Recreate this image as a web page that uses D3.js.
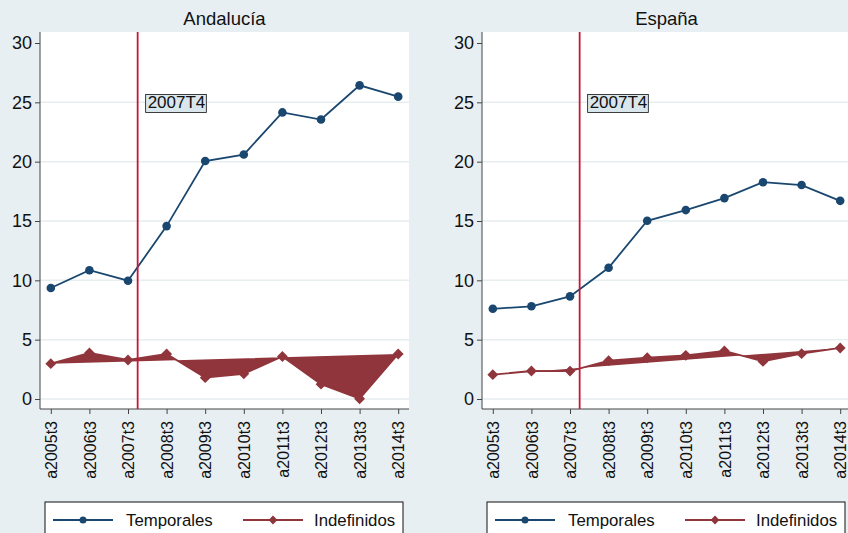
<!DOCTYPE html>
<html>
<head>
<meta charset="utf-8">
<script src="https://cdn.jsdelivr.net/npm/d3@7"></script>
<style>
  body { margin: 0; background: #e8eff2; }
  svg { display: block; font-family: "Liberation Sans", Arial, sans-serif; }
</style>
</head>
<body>
<div id="chart"></div>
<script>
// periods on the x axis
var periods = ["a2005t3","a2006t3","a2007t3","a2008t3","a2009t3","a2010t3","a2011t3","a2012t3","a2013t3","a2014t3"];
var yTicks = [0, 5, 10, 15, 20, 25, 30];

var andaluciaTemporales  = [9.35, 10.85, 9.97, 14.57, 20.05, 20.6, 24.15, 23.55, 26.43, 25.48];
var andaluciaIndefinidos = [2.98, 3.88, 3.29, 3.79, 1.8, 2.12, 3.58, 1.25, 0.02, 3.79];
var espanaTemporales     = [7.6, 7.81, 8.65, 11.06, 15.02, 15.92, 16.93, 18.27, 18.03, 16.7];
var espanaIndefinidos    = [2.05, 2.36, 2.35, 3.23, 3.48, 3.68, 4.05, 3.17, 3.82, 4.3];

var panels = [
  {title: "Andalucía", temp: andaluciaTemporales, indef: andaluciaIndefinidos},
  {title: "España", temp: espanaTemporales, indef: espanaIndefinidos}
];
var markLabel = "2007T4";   // vertical reference line, one quarter after 2007t3

var blue = "#1a476f", red = "#90353b", refColor = "#c8163a";

var W = 848, H = 533;
var svg = d3.select("#chart").append("svg").attr("width", W).attr("height", H);
svg.append("rect").attr("width", W).attr("height", H).attr("fill", "#e8eff2");

panels.forEach(function(p, i){
  var off = i * 442;
  var g = svg.append("g").attr("transform", "translate(" + off + ",0)");
  var left = 40, right = 409, top = 32, bottom = 409;

  var x = d3.scalePoint().domain(periods).range([left, right]).padding(0.28);
  var y = d3.scaleLinear().domain([0, 30]).range([399, 43]);

  g.append("rect").attr("x", left).attr("y", top)
    .attr("width", right - left).attr("height", bottom - top).attr("fill", "#fff");

  // grid
  g.selectAll(".grid").data(yTicks.filter(function(d){ return d < 30; })).enter()
    .append("line")
    .attr("x1", left).attr("x2", right)
    .attr("y1", function(d){ return y(d); }).attr("y2", function(d){ return y(d); })
    .attr("stroke", "#e6eef0").attr("stroke-width", 1.5);

  // title
  g.append("text").attr("x", (left + right) / 2).attr("y", 25)
    .attr("text-anchor", "middle").attr("font-size", 18.5).attr("fill", "#111")
    .text(p.title);

  // axes
  var yAxis = g.append("g").attr("transform", "translate(" + left + ",0)")
    .call(d3.axisLeft(y).tickValues(yTicks).tickSize(5).tickPadding(3));
  yAxis.select(".domain").attr("d", "M0," + top + "V" + bottom).attr("stroke", "#444");
  yAxis.selectAll(".tick line").attr("stroke", "#444");
  yAxis.selectAll("text").attr("font-size", 18).attr("fill", "#111")
    .attr("font-family", "'Liberation Sans', Arial, sans-serif");

  var xAxis = g.append("g").attr("transform", "translate(0," + bottom + ")")
    .call(d3.axisBottom(x).tickSize(5).tickPadding(3));
  xAxis.select(".domain").attr("d", "M" + left + ",0H" + right).attr("stroke", "#444");
  xAxis.selectAll(".tick line").attr("stroke", "#444");
  xAxis.selectAll("text")
    .attr("font-size", 16).attr("fill", "#111")
    .attr("font-family", "'Liberation Sans', Arial, sans-serif")
    .attr("transform", "rotate(-90)")
    .attr("text-anchor", "end")
    .attr("x", -12).attr("y", 0).attr("dy", "0.35em");

  // Indefinidos: filled path
  var line = d3.line()
    .x(function(d, j){ return x(periods[j]); })
    .y(function(d){ return y(d); });

  g.append("path").datum(p.indef).attr("d", line)
    .attr("fill", red).attr("stroke", red).attr("stroke-width", 1.8);
  g.selectAll(".dia").data(p.indef).enter().append("path")
    .attr("d", d3.symbol().type(d3.symbolDiamond2).size(75))
    .attr("transform", function(d, j){ return "translate(" + x(periods[j]) + "," + y(d) + ")"; })
    .attr("fill", red);

  // Temporales
  g.append("path").datum(p.temp).attr("d", line)
    .attr("fill", "none").attr("stroke", blue).attr("stroke-width", 1.8);
  g.selectAll(".dot").data(p.temp).enter().append("circle")
    .attr("cx", function(d, j){ return x(periods[j]); })
    .attr("cy", function(d){ return y(d); })
    .attr("r", 4.3).attr("fill", blue);

  // reference line at 2007T4
  var xr = x(periods[2]) + 0.25 * x.step();
  g.append("line").attr("x1", xr).attr("x2", xr).attr("y1", top).attr("y2", bottom)
    .attr("stroke", refColor).attr("stroke-width", 1.8);
  var lab = g.append("text").attr("x", xr + 10).attr("y", y(25)).attr("dy", "0.36em")
    .attr("font-size", 17).attr("fill", "#111").text(markLabel);
  var bb = lab.node().getBBox();
  g.insert("rect", function(){ return lab.node(); })
    .attr("x", bb.x - 2).attr("y", bb.y + 1).attr("width", bb.width + 3).attr("height", bb.height - 1)
    .attr("fill", "#d9e6ec").attr("stroke", "#111").attr("stroke-width", 0.8);

  // legend
  var lg = g.append("g");
  lg.append("rect").attr("x", 45).attr("y", 502).attr("width", 358).attr("height", 50)
    .attr("fill", "#fff").attr("stroke", "#111").attr("stroke-width", 1);
  var items = [
    {name: "Temporales", color: blue, x0: 53, tx: 126, shape: "circle"},
    {name: "Indefinidos", color: red, x0: 243, tx: 314, shape: "diamond"}
  ];
  items.forEach(function(it){
    lg.append("line").attr("x1", it.x0).attr("x2", it.x0 + 60).attr("y1", 520).attr("y2", 520)
      .attr("stroke", it.color).attr("stroke-width", 1.8);
    if (it.shape === "circle") {
      lg.append("circle").attr("cx", it.x0 + 30).attr("cy", 520).attr("r", 3.5).attr("fill", it.color);
    } else {
      lg.append("path").attr("d", d3.symbol().type(d3.symbolDiamond2).size(50))
        .attr("transform", "translate(" + (it.x0 + 30) + ",520)").attr("fill", it.color);
    }
    lg.append("text").attr("x", it.tx).attr("y", 520).attr("dy", "0.36em")
      .attr("font-size", 16.8).attr("fill", "#111").text(it.name);
  });
});
</script>
</body>
</html>
